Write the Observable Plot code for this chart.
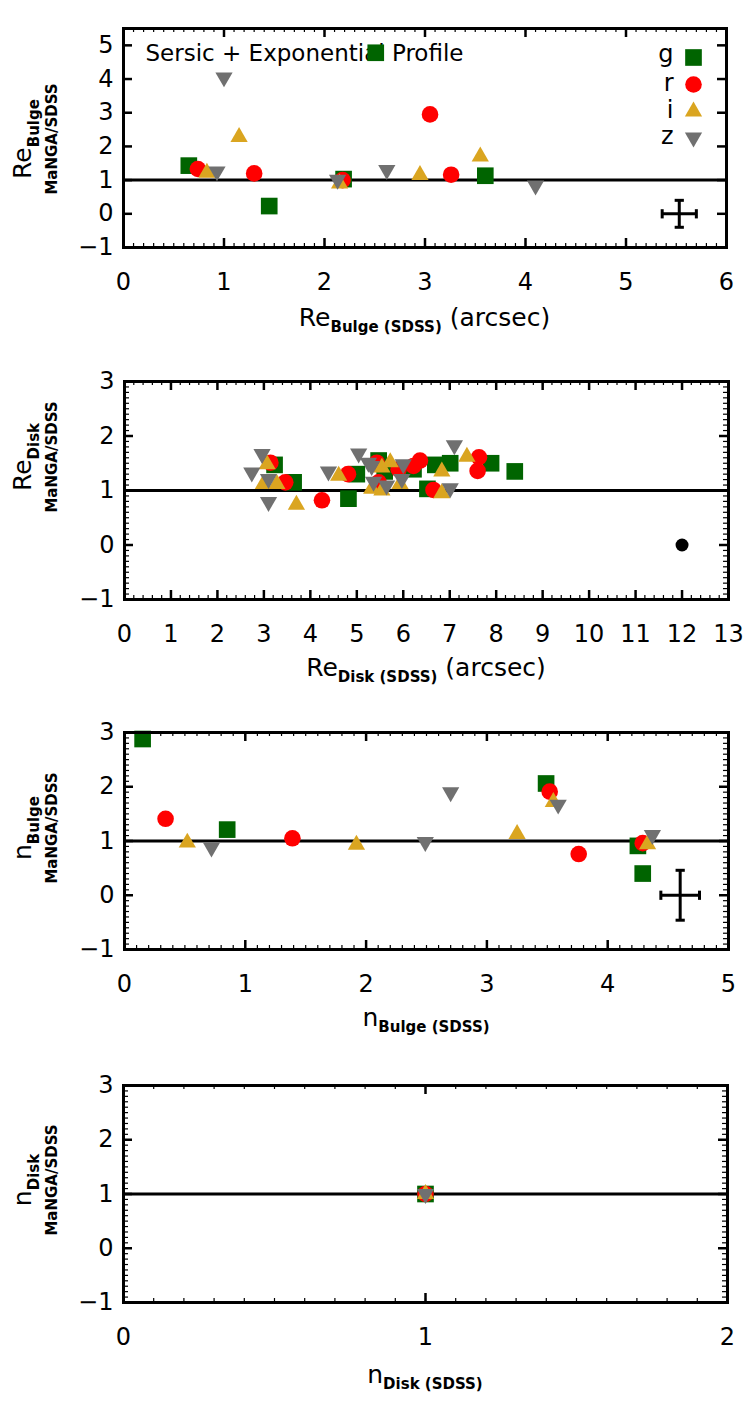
<!DOCTYPE html>
<html><head><meta charset="utf-8">
<script src="https://cdn.jsdelivr.net/npm/d3@7"></script>
<script src="https://cdn.jsdelivr.net/npm/@observablehq/plot@0.6"></script>
<style>body{margin:0;background:#fff} #chart{width:747px} #chart svg{display:block}</style>
</head><body><div id="chart"></div>
<script>
const FONT = "DejaVu Sans";
const COLORS = {g: "#006400", r: "#ff0000", i: "#daa520", z: "#707070"};
const bands = ["g", "r", "i", "z"];

// ---- Panel 1: Re Bulge ----
const reBulgeG_x = [0.65, 1.45, 2.19, 2.51, 3.60];
const reBulgeG_y = [1.43, 0.23, 1.03, 4.78, 1.13];
const reBulgeR_x = [0.74, 1.30, 2.18, 3.05, 3.26];
const reBulgeR_y = [1.33, 1.20, 1.00, 2.95, 1.16];
const reBulgeI_x = [0.83, 1.15, 2.15, 2.95, 3.55];
const reBulgeI_y = [1.22, 2.28, 0.90, 1.15, 1.70];
const reBulgeZ_x = [0.93, 1.00, 2.13, 2.62, 4.10];
const reBulgeZ_y = [1.26, 4.05, 1.01, 1.30, 0.84];
const reBulgeErrX = [5.53], reBulgeErrY = [0], reBulgeErrDX = [0.17], reBulgeErrDY = [0.40];

// ---- Panel 2: Re Disk ----
const reDiskG_x = [3.23, 3.64, 4.82, 5.00, 5.47, 5.60, 6.22, 6.52, 6.69, 7.01, 7.89, 8.40];
const reDiskG_y = [1.47, 1.15, 0.85, 1.30, 1.55, 1.35, 1.39, 1.03, 1.47, 1.50, 1.50, 1.35];
const reDiskR_x = [3.14, 3.46, 4.25, 4.81, 5.43, 5.47, 5.90, 6.22, 6.36, 6.65, 7.60, 7.63];
const reDiskR_y = [1.51, 1.15, 0.82, 1.30, 1.51, 1.15, 1.39, 1.45, 1.55, 1.01, 1.36, 1.61];
const reDiskI_x = [3.07, 2.99, 3.28, 3.70, 4.61, 5.32, 5.54, 5.54, 5.72, 5.93, 6.83, 6.83, 7.37];
const reDiskI_y = [1.48, 1.12, 1.12, 0.74, 1.27, 1.03, 1.42, 1.00, 1.52, 1.12, 1.35, 0.95, 1.62];
const reDiskZ_x = [2.96, 2.74, 3.10, 3.10, 4.39, 5.04, 5.25, 5.32, 5.36, 5.64, 5.97, 6.00, 7.01, 7.10];
const reDiskZ_y = [1.67, 1.33, 1.21, 0.79, 1.35, 1.68, 1.51, 1.45, 1.16, 1.09, 1.21, 1.48, 1.04, 1.83];
const reDiskErrX = [12], reDiskErrY = [0];

// ---- Panel 3: n Bulge ----
const nBulgeG_x = [0.15, 0.85, 3.49, 4.25, 4.29];
const nBulgeG_y = [2.88, 1.21, 2.06, 0.91, 0.40];
const nBulgeR_x = [0.34, 1.39, 3.52, 3.76, 4.29];
const nBulgeR_y = [1.41, 1.05, 1.91, 0.76, 0.96];
const nBulgeI_x = [0.52, 1.92, 3.25, 3.55, 4.33];
const nBulgeI_y = [0.97, 0.93, 1.13, 1.72, 0.94];
const nBulgeZ_x = [0.72, 2.49, 2.70, 3.59, 4.37];
const nBulgeZ_y = [0.88, 0.98, 1.90, 1.67, 1.11];
const nBulgeErrX = [4.60], nBulgeErrY = [0], nBulgeErrDX = [0.16], nBulgeErrDY = [0.46];

// ---- Panel 4: n Disk ----
const nDiskG_x = [1], nDiskG_y = [1];
const nDiskR_x = [1], nDiskR_y = [1];
const nDiskI_x = [1], nDiskI_y = [1];
const nDiskZ_x = [1], nDiskZ_y = [1];

// symbols
const triDown = {draw(ctx, size) {
  const y = Math.sqrt(size / (3 * Math.sqrt(3)));
  ctx.moveTo(0, 2 * y); ctx.lineTo(-Math.sqrt(3) * y, -y); ctx.lineTo(Math.sqrt(3) * y, -y); ctx.closePath();
}};
const vLine = {draw(ctx, size) { const s = Math.sqrt(size) / 2; ctx.moveTo(0, -s); ctx.lineTo(0, s); }};
const hLine = {draw(ctx, size) { const s = Math.sqrt(size) / 2; ctx.moveTo(-s, 0); ctx.lineTo(s, 0); }};
const SYM = {g: {symbol: "square", r: 9.4}, r: {symbol: "circle", r: 8.3}, i: {symbol: "triangle", r: 6.4}, z: {symbol: triDown, r: 6.4}};

const fmt = d => d < 0 ? "\u2212" + Math.abs(d) : String(d);

function seriesMarks(sets) {
  return bands.map(b => Plot.dot(sets[b][0], {x: sets[b][0], y: sets[b][1], symbol: SYM[b].symbol, r: SYM[b].r, fill: COLORS[b], stroke: "none"}));
}
function errorMarks(ex, ey, edx, edy) {
  const x1 = ex.map((v, i) => v - edx[i]), x2 = ex.map((v, i) => v + edx[i]);
  const y1 = ey.map((v, i) => v - edy[i]), y2 = ey.map((v, i) => v + edy[i]);
  return [
    Plot.ruleY(ey, {x1, x2, y: ey, strokeWidth: 3}),
    Plot.ruleX(ex, {x: ex, y1, y2, strokeWidth: 3}),
    Plot.dot(x1, {x: x1, y: ey, symbol: vLine, r: 5.2, stroke: "black", strokeWidth: 3, fill: "none"}),
    Plot.dot(x2, {x: x2, y: ey, symbol: vLine, r: 5.2, stroke: "black", strokeWidth: 3, fill: "none"}),
    Plot.dot(y1, {x: ex, y: y1, symbol: hLine, r: 5.2, stroke: "black", strokeWidth: 3, fill: "none"}),
    Plot.dot(y2, {x: ex, y: y2, symbol: hLine, r: 5.2, stroke: "black", strokeWidth: 3, fill: "none"})
  ];
}

function panel(o) {
  const fh = o.height - o.mt - o.mb;
  const fw = 747 - o.ml - o.mr;
  const marks = [
    Plot.ruleY([1], {strokeWidth: 3}),
    // inward ticks
    Plot.ruleX(o.xTicks, {insetTop: fh - 9, strokeWidth: 2.5}),
    Plot.ruleX(o.xTicks, {insetBottom: fh - 9, strokeWidth: 2.5}),
    Plot.ruleX(o.xMinor, {insetTop: fh - 4, strokeWidth: 1.2}),
    Plot.ruleX(o.xMinor, {insetBottom: fh - 4, strokeWidth: 1.2}),
    Plot.ruleY(o.yTicks, {insetRight: fw - 9, strokeWidth: 2.5}),
    Plot.ruleY(o.yTicks, {insetLeft: fw - 9, strokeWidth: 2.5}),
    Plot.ruleY(o.yMinor, {insetRight: fw - 5, strokeWidth: 1.2}),
    Plot.ruleY(o.yMinor, {insetLeft: fw - 5, strokeWidth: 1.2}),
    Plot.axisX({ticks: o.xTicks, tickSize: 0, tickPadding: 25, tickFormat: fmt}),
    Plot.axisY({ticks: o.yTicks, tickSize: 0, tickPadding: 10, tickFormat: fmt}),
    ...(o.extra || []),
    ...seriesMarks(o.sets),
    Plot.frame({stroke: "black", strokeWidth: 3})
  ];
  const p = Plot.plot({
    width: 747, height: o.height,
    marginTop: o.mt, marginBottom: o.mb, marginLeft: o.ml, marginRight: o.mr,
    x: {domain: o.xDomain}, y: {domain: o.yDomain},
    style: {fontFamily: FONT, fontSize: "24px", background: "white", color: "black"},
    marks
  });
  const svg = d3.select(p);
  // y label (rotated)
  const cy = o.yLabelCy;
  const t = svg.append("text").attr("transform", `translate(31,${cy}) rotate(-90)`)
    .attr("text-anchor", "middle").attr("font-family", FONT).attr("font-size", 25).attr("fill", "black");
  t.append("tspan").text(o.yMain);
  t.append("tspan").attr("dy", 8).attr("font-size", 15).attr("font-weight", "bold").text(o.ySub);
  svg.append("text").attr("transform", `translate(57,${cy}) rotate(-90)`)
    .attr("text-anchor", "middle").attr("font-family", FONT).attr("font-size", 15).attr("font-weight", "bold")
    .attr("fill", "black").text("MaNGA/SDSS");
  // x label
  const cx = o.ml + fw / 2;
  const xt = svg.append("text").attr("x", cx).attr("y", o.xLabelBase).attr("text-anchor", "middle")
    .attr("font-family", FONT).attr("font-size", 25).attr("fill", "black");
  xt.append("tspan").text(o.xMain);
  xt.append("tspan").attr("dy", 6).attr("font-size", 15).attr("font-weight", "bold").text(o.xSub);
  if (o.xTail) xt.append("tspan").attr("dy", -6).text(" " + o.xTail);
  document.getElementById("chart").appendChild(p);
}

const yMinor4 = d3.range(-10, 31).map(v => v / 10);

panel({
  height: 347, mt: 28, mb: 100, ml: 123, mr: 21,
  xDomain: [0, 6], yDomain: [-1, 5.5],
  xTicks: [0, 1, 2, 3, 4, 5, 6], xMinor: d3.range(0, 61).map(v => v / 10),
  yTicks: [-1, 0, 1, 2, 3, 4, 5], yMinor: [],
  sets: {g: [reBulgeG_x, reBulgeG_y], r: [reBulgeR_x, reBulgeR_y], i: [reBulgeI_x, reBulgeI_y], z: [reBulgeZ_x, reBulgeZ_y]},
  extra: [
    ...errorMarks(reBulgeErrX, reBulgeErrY, reBulgeErrDX, reBulgeErrDY),
    Plot.text(["Sersic + Exponential Profile"], {frameAnchor: "top-left", dx: 22, dy: 25, textAnchor: "start", lineAnchor: "middle", fontSize: 23}),
    ...bands.map((b, k) => Plot.dot([b], {frameAnchor: "top-right", dx: -33, dy: [29, 56, 83, 109][k], symbol: SYM[b].symbol, r: SYM[b].r, fill: COLORS[b], stroke: "none"})),
    ...bands.map((b, k) => Plot.text([b], {frameAnchor: "top-right", dx: -53, dy: [26, 55, 82, 108][k], textAnchor: "end", lineAnchor: "middle", fontSize: 24}))
  ],
  yLabelCy: 139, yMain: "Re", ySub: "Bulge",
  xLabelBase: 326, xMain: "Re", xSub: "Bulge (SDSS)", xTail: "(arcsec)"
});

panel({
  height: 353, mt: 34, mb: 101, ml: 124, mr: 19,
  xDomain: [0, 13], yDomain: [-1, 3],
  xTicks: d3.range(0, 14), xMinor: d3.range(0, 66).map(v => v / 5),
  yTicks: [-1, 0, 1, 2, 3], yMinor: yMinor4,
  sets: {g: [reDiskG_x, reDiskG_y], r: [reDiskR_x, reDiskR_y], i: [reDiskI_x, reDiskI_y], z: [reDiskZ_x, reDiskZ_y]},
  extra: [Plot.dot(reDiskErrX, {x: reDiskErrX, y: reDiskErrY, r: 6.5, fill: "black"})],
  yLabelCy: 110, yMain: "Re", ySub: "Disk",
  xLabelBase: 329, xMain: "Re", xSub: "Disk (SDSS)", xTail: "(arcsec)"
});

panel({
  height: 355, mt: 32, mb: 106, ml: 124, mr: 19,
  xDomain: [0, 5], yDomain: [-1, 3],
  xTicks: [0, 1, 2, 3, 4, 5], xMinor: d3.range(0, 51).map(v => v / 10),
  yTicks: [-1, 0, 1, 2, 3], yMinor: yMinor4,
  sets: {g: [nBulgeG_x, nBulgeG_y], r: [nBulgeR_x, nBulgeR_y], i: [nBulgeI_x, nBulgeI_y], z: [nBulgeZ_x, nBulgeZ_y]},
  extra: errorMarks(nBulgeErrX, nBulgeErrY, nBulgeErrDX, nBulgeErrDY),
  yLabelCy: 128, yMain: "n", ySub: "Bulge",
  xLabelBase: 326, xMain: "n", xSub: "Bulge (SDSS)"
});

panel({
  height: 347, mt: 30, mb: 100, ml: 123, mr: 20,
  xDomain: [0, 2], yDomain: [-1, 3],
  xTicks: [0, 1, 2], xMinor: d3.range(0, 21).map(v => v / 10),
  yTicks: [-1, 0, 1, 2, 3], yMinor: yMinor4,
  sets: {g: [nDiskG_x, nDiskG_y], r: [nDiskR_x, nDiskR_y], i: [nDiskI_x, nDiskI_y], z: [nDiskZ_x, nDiskZ_y]},
  yLabelCy: 125, yMain: "n", ySub: "Disk",
  xLabelBase: 328, xMain: "n", xSub: "Disk (SDSS)"
});
</script></body></html>
